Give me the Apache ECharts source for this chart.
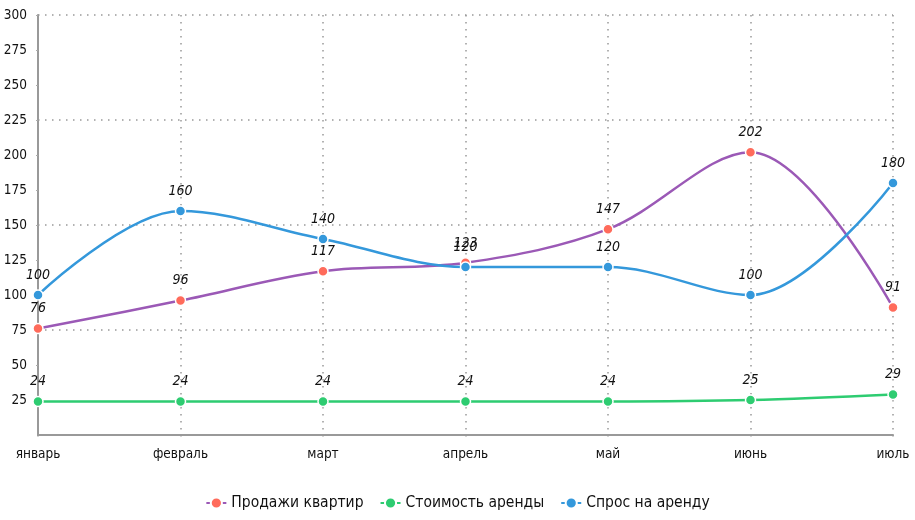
<!DOCTYPE html>
<html><head><meta charset="utf-8">
<script src="https://cdn.jsdelivr.net/npm/echarts@6/dist/echarts.min.js"></script>
<style>html,body{margin:0;padding:0;background:#fff}#c{width:915px;height:520px}</style>
</head><body><div id="c"></div>
<script>
const categories = ['январь','февраль','март','апрель','май','июнь','июль'];
const sales = [76, 96, 117, 123, 147, 202, 91];
const rentCost = [24, 24, 24, 24, 24, 25, 29];
const rentDemand = [100, 160, 140, 120, 120, 100, 180];
const seriesNames = ['Продажи квартир','Стоимость аренды','Спрос на аренду'];

const FONT = '"Liberation Sans Narrow","DejaVu Sans Condensed","Roboto Condensed",sans-serif';
const DOT = {color:'#999',type:[1.5,5.5],width:1.5};
const chart = echarts.init(document.getElementById('c'));
function mk(name, data, lineColor, pointColor){
  return {
    name, type:'line', data, smooth:0.35, symbol:'circle', symbolSize:10,
    lineStyle:{color:lineColor,width:2.5},
    itemStyle:{color:pointColor,borderColor:'#fff',borderWidth:1.5},
    label:{show:true,position:'top',color:'#111',fontStyle:'italic',fontFamily:FONT,fontSize:14,distance:7},
    emphasis:{disabled:true}
  };
}
chart.setOption({
  animation:false,
  textStyle:{fontFamily:FONT},
  grid:{left:38,right:22,top:15,bottom:85,containLabel:false},
  legend:{bottom:4,left:'center',itemGap:16,itemWidth:20,textStyle:{fontFamily:FONT,fontSize:15.5,color:'#111'},
    data:seriesNames},
  xAxis:{type:'category',data:categories,boundaryGap:false,
    axisLine:{lineStyle:{color:'#999',width:2}},
    axisTick:{show:true,alignWithLabel:true,length:6,lineStyle:DOT},
    axisLabel:{color:'#111',fontSize:13.5,fontFamily:FONT,margin:12},
    splitLine:{show:true,lineStyle:DOT}},
  yAxis:[{type:'value',min:0,max:300,interval:25,
    axisLine:{show:true,lineStyle:{color:'#999',width:2}},
    axisTick:{show:true,length:2,lineStyle:{color:'#aaa'}},
    axisLabel:{color:'#111',fontSize:13.5,fontFamily:FONT,showMinLabel:false,margin:11},
    splitLine:{show:false}},
   {type:'value',min:0,max:300,interval:75,position:'left',
    axisLine:{show:false},axisTick:{show:false},axisLabel:{show:false},
    splitLine:{show:true,lineStyle:DOT}}],
  series:[
    mk(seriesNames[0], sales, '#9b59b6', '#ff6b5b'),
    mk(seriesNames[1], rentCost, '#2ecc71', '#2ecc71'),
    mk(seriesNames[2], rentDemand, '#3498db', '#3498db')
  ]
});
</script></body></html>
